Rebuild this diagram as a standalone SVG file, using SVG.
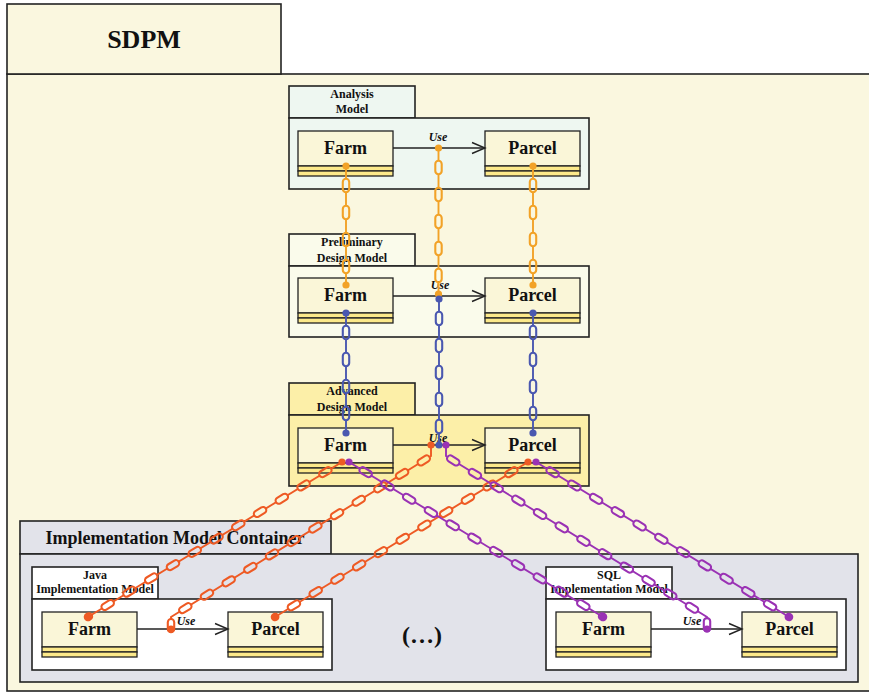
<svg xmlns="http://www.w3.org/2000/svg" xmlns:xlink="http://www.w3.org/1999/xlink" width="869" height="694" viewBox="0 0 869 694">
<defs>
<style>
.t{font-family:"Liberation Serif","Times New Roman",serif;font-weight:bold;fill:#111}
.frame{stroke:#222;stroke-width:1.6}
.cls{fill:#FAF6D8;stroke:#222;stroke-width:1.3}
.comp{fill:#FCE98A;stroke:#222;stroke-width:1.3}
.cname{font-size:18px;text-anchor:middle}
.tab{font-size:12px;text-anchor:middle}
.use{font-size:12px;font-style:italic;text-anchor:middle}
.assoc{stroke:#222;stroke-width:1.3;fill:none;marker-end:url(#arr)}
.wire{fill:none;stroke-width:1.9}
.link{fill:none;stroke-width:8.5;stroke-linecap:round;stroke-dasharray:7 20;stroke-dashoffset:-16}
.hole{fill:none;stroke:#000;stroke-width:4.3;stroke-linecap:round;stroke-dasharray:7 20;stroke-dashoffset:-16}
.dlink{fill:none;stroke-width:8.5;stroke-linecap:round;stroke-dasharray:7 18.5;stroke-dashoffset:-16}
.dhole{fill:none;stroke:#000;stroke-width:4.3;stroke-linecap:round;stroke-dasharray:7 18.5;stroke-dashoffset:-16}
.o{fill:#F2A227}.b{fill:#4A58B0}.r{fill:#EE5A24}.p{fill:#9A32B4}
</style>
<marker id="arr" markerUnits="userSpaceOnUse" markerWidth="16" markerHeight="14" refX="14" refY="7" orient="auto">
<path d="M1,1.5 L14,7 L1,12.5" fill="none" stroke="#222" stroke-width="1.4"/>
</marker>
<path id="c1" d="M346,166 V285"/>
<path id="c2" d="M438.5,148 V294"/>
<path id="c3" d="M533,166 V285"/>
<path id="b1" d="M346,313 V433"/>
<path id="b2" d="M439,299 V445"/>
<path id="b3" d="M533,313 V433"/>
<path id="r1" d="M342,462 L88,617"/>
<path id="r2" d="M431,445 V456 L171,617 V629"/>
<path id="r3" d="M528,462 L275,617"/>
<path id="p1" d="M349,462 L603,617"/>
<path id="p2" d="M446,445 V456 L707,617 V629"/>
<path id="p3" d="M536,462 L789,617"/>
<mask id="mO" maskUnits="userSpaceOnUse" x="0" y="0" width="869" height="694">
<rect width="869" height="694" fill="#fff"/>
<use href="#c1" class="hole"/><use href="#c2" class="hole"/><use href="#c3" class="hole"/>
</mask>
<mask id="mB" maskUnits="userSpaceOnUse" x="0" y="0" width="869" height="694">
<rect width="869" height="694" fill="#fff"/>
<use href="#b1" class="hole"/><use href="#b2" class="hole"/><use href="#b3" class="hole"/>
</mask>
<mask id="mR" maskUnits="userSpaceOnUse" x="0" y="0" width="869" height="694">
<rect width="869" height="694" fill="#fff"/>
<use href="#r1" class="dhole"/><use href="#r2" class="dhole"/><use href="#r3" class="dhole"/>
</mask>
<mask id="mP" maskUnits="userSpaceOnUse" x="0" y="0" width="869" height="694">
<rect width="869" height="694" fill="#fff"/>
<use href="#p1" class="dhole"/><use href="#p2" class="dhole"/><use href="#p3" class="dhole"/>
</mask>
</defs>
<rect width="869" height="694" fill="#fff"/>

<g id="sdpm">
<rect class="frame" x="7" y="74" width="880" height="617" fill="#FAF7DF" stroke-width="2"/>
<rect class="frame" x="7" y="4" width="274" height="70" fill="#FAF7DF" stroke-width="2"/>
<text class="t" x="144" y="48" font-size="26" text-anchor="middle">SDPM</text>
</g>

<g id="analysis-model">
<rect class="frame" x="289" y="86" width="126" height="32" fill="#EEF7F1"/>
<rect class="frame" x="289" y="118" width="300" height="71" fill="#EEF7F1"/>
<text class="t tab" x="352" y="98">Analysis</text>
<text class="t tab" x="352" y="113">Model</text>
<g id="analysis-farm"><rect class="cls" x="298" y="131" width="95" height="35"/><rect class="comp" x="298" y="166" width="95" height="5"/><rect class="comp" x="298" y="171" width="95" height="5"/><text class="t cname" x="345.5" y="154">Farm</text></g>
<g id="analysis-parcel"><rect class="cls" x="485" y="131" width="95" height="35"/><rect class="comp" x="485" y="166" width="95" height="5"/><rect class="comp" x="485" y="171" width="95" height="5"/><text class="t cname" x="532.5" y="154">Parcel</text></g>
</g>

<g id="preliminary-design-model">
<rect class="frame" x="289" y="234" width="126" height="32" fill="#FAFBEB"/>
<rect class="frame" x="289" y="266" width="300" height="71" fill="#FAFBEB"/>
<text class="t tab" x="352" y="246">Preliminary</text>
<text class="t tab" x="352" y="262">Design Model</text>
<g id="preliminary-farm"><rect class="cls" x="298" y="278" width="95" height="35"/><rect class="comp" x="298" y="313" width="95" height="5"/><rect class="comp" x="298" y="318" width="95" height="5"/><text class="t cname" x="345.5" y="301">Farm</text></g>
<g id="preliminary-parcel"><rect class="cls" x="485" y="278" width="95" height="35"/><rect class="comp" x="485" y="313" width="95" height="5"/><rect class="comp" x="485" y="318" width="95" height="5"/><text class="t cname" x="532.5" y="301">Parcel</text></g>
</g>

<g id="advanced-design-model">
<rect class="frame" x="289" y="383" width="126" height="32" fill="#FCEFA8"/>
<rect class="frame" x="289" y="415" width="300" height="71" fill="#FCEFA8"/>
<text class="t tab" x="352" y="395">Advanced</text>
<text class="t tab" x="352" y="411">Design Model</text>
<g id="advanced-farm"><rect class="cls" x="298" y="428" width="95" height="35"/><rect class="comp" x="298" y="463" width="95" height="5"/><rect class="comp" x="298" y="468" width="95" height="5"/><text class="t cname" x="345.5" y="451">Farm</text></g>
<g id="advanced-parcel"><rect class="cls" x="485" y="428" width="95" height="35"/><rect class="comp" x="485" y="463" width="95" height="5"/><rect class="comp" x="485" y="468" width="95" height="5"/><text class="t cname" x="532.5" y="451">Parcel</text></g>
</g>

<g id="implementation-model-container">
<rect class="frame" x="20" y="521" width="311" height="33" fill="#E2E3EA"/>
<rect class="frame" x="20" y="554" width="838" height="128" fill="#E2E3EA"/>
<text class="t" x="175" y="544" font-size="18" text-anchor="middle">Implementation Model Container</text>
<text class="t" x="422" y="643" font-size="24" text-anchor="middle">(…)</text>
</g>

<g id="java-implementation-model">
<rect class="frame" x="32" y="567" width="126" height="32" fill="#fff"/>
<rect class="frame" x="32" y="599" width="300" height="71" fill="#fff"/>
<text class="t tab" x="95" y="579">Java</text>
<text class="t tab" x="95" y="593">Implementation Model</text>
<g id="java-farm"><rect class="cls" x="42" y="612" width="95" height="35"/><rect class="comp" x="42" y="647" width="95" height="5"/><rect class="comp" x="42" y="652" width="95" height="5"/><text class="t cname" x="89.5" y="635">Farm</text></g>
<g id="java-parcel"><rect class="cls" x="228" y="612" width="95" height="35"/><rect class="comp" x="228" y="647" width="95" height="5"/><rect class="comp" x="228" y="652" width="95" height="5"/><text class="t cname" x="275.5" y="635">Parcel</text></g>
</g>

<g id="sql-implementation-model">
<rect class="frame" x="546" y="567" width="126" height="32" fill="#fff"/>
<rect class="frame" x="546" y="599" width="300" height="71" fill="#fff"/>
<text class="t tab" x="609" y="579">SQL</text>
<text class="t tab" x="609" y="593">Implementation Model</text>
<g id="sql-farm"><rect class="cls" x="556" y="612" width="95" height="35"/><rect class="comp" x="556" y="647" width="95" height="5"/><rect class="comp" x="556" y="652" width="95" height="5"/><text class="t cname" x="603.5" y="635">Farm</text></g>
<g id="sql-parcel"><rect class="cls" x="742" y="612" width="95" height="35"/><rect class="comp" x="742" y="647" width="95" height="5"/><rect class="comp" x="742" y="652" width="95" height="5"/><text class="t cname" x="789.5" y="635">Parcel</text></g>
</g>

<g id="connectors">
<path class="assoc" d="M393,148 H485"/>
<path class="assoc" d="M393,296 H485"/>
<path class="assoc" d="M393,445 H485"/>
<path class="assoc" d="M137,629 H228"/>
<path class="assoc" d="M651,629 H742"/>
<text class="t use" x="438" y="141">Use</text>
<text class="t use" x="440" y="289">Use</text>
<text class="t use" x="438" y="442">Use</text>
<text class="t use" x="186" y="625">Use</text>
<text class="t use" x="692" y="625">Use</text>

<g stroke="#F2A227" mask="url(#mO)">
<use href="#c1" class="wire"/><use href="#c1" class="link"/>
<use href="#c2" class="wire"/><use href="#c2" class="link"/>
<use href="#c3" class="wire"/><use href="#c3" class="link"/>
</g>
<g stroke="#4A58B0" mask="url(#mB)">
<use href="#b1" class="wire"/><use href="#b1" class="link"/>
<use href="#b2" class="wire"/><use href="#b2" class="link"/>
<use href="#b3" class="wire"/><use href="#b3" class="link"/>
</g>
<g stroke="#EE5A24" mask="url(#mR)">
<use href="#r1" class="wire"/><use href="#r1" class="dlink"/>
<use href="#r2" class="wire"/><use href="#r2" class="dlink"/>
<use href="#r3" class="wire"/><use href="#r3" class="dlink"/>
</g>
<g stroke="#9A32B4" mask="url(#mP)">
<use href="#p1" class="wire"/><use href="#p1" class="dlink"/>
<use href="#p2" class="wire"/><use href="#p2" class="dlink"/>
<use href="#p3" class="wire"/><use href="#p3" class="dlink"/>
</g>
<g id="dots">
<circle class="o" cx="346" cy="166" r="3.6"/><circle class="o" cx="438.5" cy="148" r="3.6"/><circle class="o" cx="533" cy="166" r="3.6"/>
<circle class="o" cx="346" cy="285" r="3.6"/><circle class="o" cx="438.5" cy="294" r="3.6"/><circle class="o" cx="533" cy="285" r="3.6"/>
<circle class="b" cx="346" cy="313" r="3.6"/><circle class="b" cx="439" cy="299" r="3.6"/><circle class="b" cx="533" cy="313" r="3.6"/>
<circle class="b" cx="346" cy="433" r="3.6"/><circle class="b" cx="439" cy="445" r="3.6"/><circle class="b" cx="533" cy="433" r="3.6"/>
<circle class="r" cx="342" cy="462" r="3.6"/><circle class="r" cx="431" cy="445" r="3.6"/><circle class="r" cx="528" cy="462" r="3.6"/>
<circle class="r" cx="88" cy="617" r="3.6"/><circle class="r" cx="171" cy="629" r="3.6"/><circle class="r" cx="275" cy="617" r="3.6"/>
<circle class="p" cx="349" cy="462" r="3.6"/><circle class="p" cx="446" cy="445" r="3.6"/><circle class="p" cx="536" cy="462" r="3.6"/>
<circle class="p" cx="603" cy="617" r="3.6"/><circle class="p" cx="707" cy="629" r="3.6"/><circle class="p" cx="789" cy="617" r="3.6"/>
</g>
</g>
</svg>
